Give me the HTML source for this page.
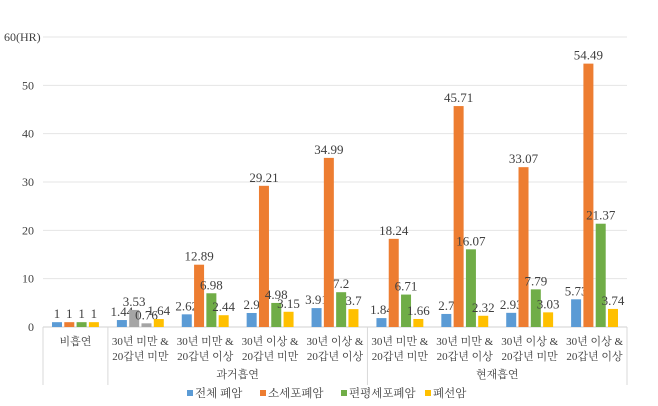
<!DOCTYPE html>
<html><head><meta charset="utf-8"><style>
body{margin:0;background:#fff;}
svg text{font-family:"Liberation Serif","Noto Serif CJK SC","Noto Sans CJK KR",serif;fill:#404040;}
</style></head><body>
<svg id="c" width="658" height="401"></svg>
<script>
const categories1=["비흡연","30년 미만 &","30년 미만 &","30년 이상 &","30년 이상 &","30년 미만 &","30년 미만 &","30년 이상 &","30년 이상 &"];
const categories2=["","20갑년 미만","20갑년 이상","20갑년 미만","20갑년 이상","20갑년 미만","20갑년 이상","20갑년 미만","20갑년 이상"];
const seriesNames=["전체 폐암","소세포폐암","편평세포폐암","폐선암"];
const totalLung=[1,1.44,2.62,2.9,3.91,1.84,2.7,2.93,5.73];
const smallCell=[1,3.53,12.89,29.21,34.99,18.24,45.71,33.07,54.49];
const squamous=[1,0.76,6.98,4.98,7.2,6.71,16.07,7.79,21.37];
const adeno=[1,1.64,2.44,3.15,3.7,1.66,2.32,3.03,3.74];
const grayed=[false,true,false,false,false,false,false,false,false];
const yTicks=[0,10,20,30,40,50,60];
const colors=["#5b9bd5","#ed7d31","#70ad47","#ffc000"];
const NS="http://www.w3.org/2000/svg";
const svg=document.getElementById('c');
const X0=43,X1=627,Y0=327,Y60=37;
const gw=(X1-X0)/categories1.length;
const y=v=>Y0-(v/60)*(Y0-Y60);
function mk(t,a,txt){const e=document.createElementNS(NS,t);for(const k in a)e.setAttribute(k,a[k]);if(txt!==undefined)e.textContent=txt;svg.appendChild(e);return e;}
yTicks.forEach(t=>{
 const g=mk('line',{x1:X0,x2:X1,y1:y(t),y2:y(t),stroke:t===0?'#d0d0d0':'#e4e4e4'});
 
 
 const l=mk('text',{x:t===60?4:34,y:y(t)+4,'font-size':12,'text-anchor':t===60?'start':'end'},t===60?'60(HR)':String(t));
 
 
});
[X0,X0+gw,X0+5*gw,X1].forEach(x=>{
 const d=mk('line',{x1:x,x2:x,y1:Y0,y2:385,stroke:'#d9d9d9'});
 
 
});
const series=[totalLung,smallCell,squamous,adeno];
const bw=10,pitch=12.3;
categories1.forEach((c,i)=>{
 const cx=X0+gw*(i+0.5);
 series.forEach((s,j)=>{
  const v=s[i];
  const bx=cx-2*pitch+j*pitch+(pitch-bw)/2;
  let col=colors[j];
  if(grayed[i]&&(j===1||j===2))col='#a5a5a5';
  const r=mk('rect',{x:bx,y:y(v),width:bw,height:Y0-y(v),fill:col});
  
  
  const t=mk('text',{x:bx+bw/2,y:y(v)-4,'font-size':13,'text-anchor':'middle',fill:'#404040'},String(v));
  
  
 });
 const l1=mk('text',{x:cx,y:345,'font-size':11,'text-anchor':'middle'},c);
 
 
 if(categories2[i]){const l2=mk('text',{x:cx,y:360,'font-size':11,'text-anchor':'middle'},categories2[i]);
 
 }
});
const g1=mk('text',{x:X0+3*gw,y:378,'font-size':11,'text-anchor':'middle'},'과거흡연');


const g2=mk('text',{x:X0+7*gw,y:378,'font-size':11,'text-anchor':'middle'},'현재흡연');


const lx=[187,260,341,425];
seriesNames.forEach((n,j)=>{
 const r=mk('rect',{x:lx[j],y:390,width:6,height:6,fill:colors[j]});
 
 
 const t=mk('text',{x:lx[j]+8,y:397,'font-size':11.5},n);
 
 
});
</script>
</body></html>
